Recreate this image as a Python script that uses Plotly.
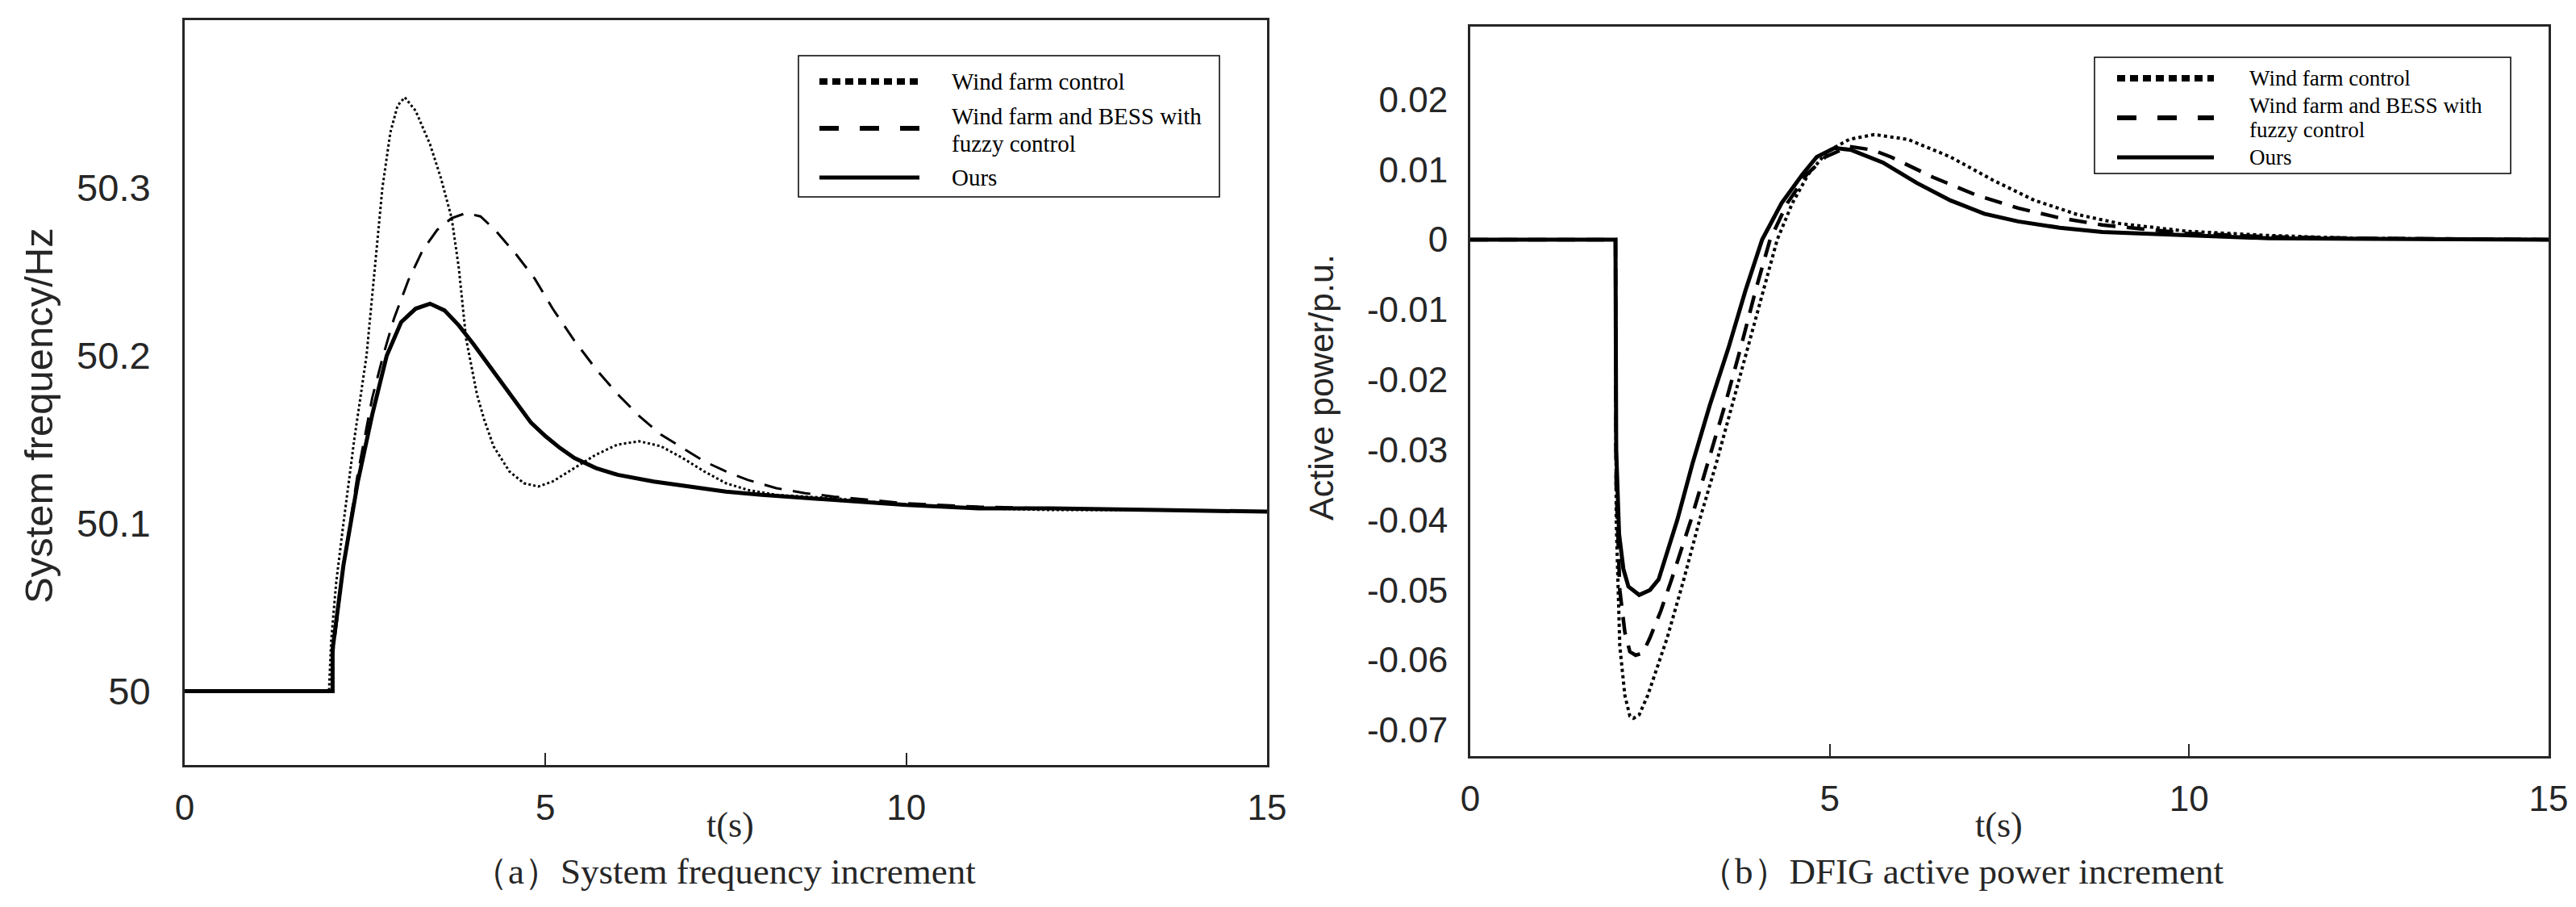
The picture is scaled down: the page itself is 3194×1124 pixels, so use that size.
"""
Frequency / DFIG active power response, two panels side by side.
"""

import plotly.graph_objects as go

W, H = 3194, 1124

# ---- panel (a): system frequency (Hz) ----
t_wf_a = [0, 2.0, 2.03, 2.1, 2.2, 2.35, 2.52, 2.63, 2.74, 2.85, 2.95, 3.05, 3.2, 3.4,
          3.55, 3.7, 3.8, 3.9, 4.05, 4.15, 4.28, 4.5, 4.7, 4.9, 5.1, 5.4, 5.7, 6.0,
          6.3, 6.6, 6.9, 7.2, 7.5, 7.8, 8.2, 8.6, 9.0, 9.5, 10, 11, 12, 13.5, 15]
f_wf = [50, 50, 50.03, 50.065, 50.1, 50.15, 50.2, 50.25, 50.3, 50.333, 50.349, 50.354,
        50.346, 50.326, 50.306, 50.282, 50.252, 50.21, 50.177, 50.162, 50.146, 50.131,
        50.124, 50.122, 50.125, 50.133, 50.141, 50.147, 50.149, 50.146, 50.139, 50.131,
        50.124, 50.12, 50.117, 50.116, 50.115, 50.113, 50.111, 50.109, 50.108, 50.108,
        50.107]

t_fz_a = [0, 2.05, 2.05, 2.2, 2.4, 2.6, 2.75, 2.9, 3.1, 3.3, 3.5, 3.7, 3.9, 4.1, 4.3,
          4.6, 4.85, 5.1, 5.4, 5.7, 6.0, 6.3, 6.6, 6.9, 7.2, 7.5, 7.8, 8.2, 8.6, 9.0,
          9.5, 10, 11, 12, 13.5, 15]
f_fz = [50, 50, 50.02, 50.075, 50.13, 50.175, 50.2, 50.222, 50.245, 50.263, 50.275,
        50.282, 50.285, 50.283, 50.275, 50.26, 50.246, 50.228, 50.209, 50.192, 50.177,
        50.164, 50.153, 50.145, 50.137, 50.131, 50.126, 50.121, 50.118, 50.116, 50.114,
        50.112, 50.11, 50.109, 50.108, 50.107]

t_ours_a = [0, 2.05, 2.05, 2.2, 2.4, 2.6, 2.8, 3.0, 3.2, 3.4, 3.6, 3.8, 4.0, 4.2, 4.4,
            4.6, 4.8, 5.0, 5.2, 5.4, 5.7, 6.0, 6.5, 7.0, 7.5, 8.0, 9.0, 10, 11, 12,
            13.5, 15]
f_ours = [50, 50, 50.025, 50.075, 50.125, 50.165, 50.2, 50.22, 50.228, 50.231, 50.227,
          50.218, 50.207, 50.195, 50.183, 50.171, 50.16, 50.152, 50.145, 50.139, 50.133,
          50.129, 50.125, 50.122, 50.119, 50.117, 50.114, 50.111, 50.109, 50.109,
          50.108, 50.107]

# ---- panel (b): DFIG active power (p.u.) ----
t_wf_b = [0, 2.02, 2.03, 2.08, 2.15, 2.22, 2.27, 2.35, 2.47, 2.74, 2.97, 3.19, 3.42,
          3.64, 3.86, 4.07, 4.27, 4.48, 4.70, 4.97, 5.27, 5.62, 6.09, 6.68, 7.27, 7.85,
          8.44, 9.03, 9.97, 11.1, 12.3, 15]
p_wf = [0, 0, -0.04, -0.058, -0.065, -0.068, -0.0683, -0.0678, -0.065, -0.0568,
        -0.0485, -0.040, -0.032, -0.0237, -0.0155, -0.0072, 0, 0.0052, 0.0093, 0.0126,
        0.0143, 0.015, 0.0143, 0.0118, 0.0085, 0.0056, 0.0036, 0.0023, 0.0012, 0.0006,
        0.0002, 0]

t_fz_b = [0, 2.02, 2.03, 2.08, 2.15, 2.22, 2.3, 2.4, 2.5, 2.65, 2.8, 3.07, 3.30, 3.54,
          3.76, 3.97, 4.17, 4.41, 4.68, 4.94, 5.27, 5.6, 5.85, 6.44, 7.03, 7.62, 8.2,
          8.79, 9.97, 11.1, 12.3, 15]
p_fz = [0, 0, -0.035, -0.05, -0.056, -0.0588, -0.0593, -0.059, -0.0568, -0.053,
        -0.0485, -0.040, -0.032, -0.0237, -0.0155, -0.0072, 0, 0.0052, 0.0093, 0.0118,
        0.0133, 0.0128, 0.0118, 0.0089, 0.0064, 0.0045, 0.0031, 0.0021, 0.0009, 0.0004,
        0.0002, 0]

t_ours_b = [0, 2.02, 2.03, 2.07, 2.13, 2.2, 2.35, 2.5, 2.62, 2.88, 3.09, 3.33, 3.59,
            3.83, 4.06, 4.33, 4.62, 4.82, 5.07, 5.3, 5.74, 6.21, 6.68, 7.15, 7.62, 8.2,
            8.79, 9.97, 11.1, 12.5, 15]
p_ours = [0, 0, -0.03, -0.042, -0.047, -0.0495, -0.0507, -0.050, -0.0485, -0.040,
          -0.032, -0.0237, -0.0155, -0.0072, 0, 0.0052, 0.0093, 0.0118, 0.0131, 0.0128,
          0.011, 0.0081, 0.0056, 0.0037, 0.0026, 0.0017, 0.0011, 0.0006, 0.0002,
          0.0001, 0]

x_ticks = [0, 5, 10, 15]
f_ticks = [50, 50.1, 50.2, 50.3]
f_minor = [50, 50.05, 50.1, 50.15, 50.2, 50.25, 50.3, 50.35]
p_ticks = [0.02, 0.01, 0, -0.01, -0.02, -0.03, -0.04, -0.05, -0.06, -0.07]
p_labels = ["0.02", "0.01", "0", "-0.01", "-0.02", "-0.03", "-0.04", "-0.05",
            "-0.06", "-0.07"]

legend_names = ["Wind farm control", "Wind farm and BESS with", "fuzzy control", "Ours"]

AX = "#262626"
SANS = "Liberation Sans, Arial, sans-serif"
SERIF = "Liberation Serif, Times New Roman, serif"
DASH = "22px,14px"


def px(x):
    return x / W


def py(y):
    return 1 - y / H


fig = go.Figure()

# panel (a)
fig.add_trace(go.Scatter(x=t_wf_a, y=f_wf, mode="lines", xaxis="x", yaxis="y",
                         line=dict(color="black", width=3, dash="dot")))
fig.add_trace(go.Scatter(x=t_fz_a, y=f_fz, mode="lines", xaxis="x", yaxis="y",
                         line=dict(color="black", width=3, dash=DASH)))
fig.add_trace(go.Scatter(x=t_ours_a, y=f_ours, mode="lines", xaxis="x", yaxis="y",
                         line=dict(color="black", width=5)))

# panel (b)
fig.add_trace(go.Scatter(x=t_wf_b, y=p_wf, mode="lines", xaxis="x2", yaxis="y2",
                         line=dict(color="black", width=4, dash="dot")))
fig.add_trace(go.Scatter(x=t_fz_b, y=p_fz, mode="lines", xaxis="x2", yaxis="y2",
                         line=dict(color="black", width=4.5, dash=DASH)))
fig.add_trace(go.Scatter(x=t_ours_b, y=p_ours, mode="lines", xaxis="x2", yaxis="y2",
                         line=dict(color="black", width=5)))

xcommon = dict(range=[0, 15], tickvals=x_ticks, ticks="inside", ticklen=15,
               tickwidth=2, tickcolor=AX, showline=True, linewidth=3, linecolor=AX,
               mirror=True, showgrid=False, zeroline=False, automargin=False,
               tickfont=dict(family=SANS, size=44, color=AX), ticklabelstandoff=12)
ycommon = dict(ticks="", showline=True, linewidth=3, linecolor=AX, mirror=True,
               showgrid=False, zeroline=False, automargin=False)
yright = dict(side="right", ticks="inside", ticklen=12, tickwidth=2, tickcolor=AX,
              showticklabels=False, showline=False, showgrid=False, zeroline=False,
              automargin=False)

f_range = [49.956, 50.4]
p_range = [-0.0737, 0.0304]

fig.update_layout(
    width=W, height=H,
    margin=dict(l=0, r=0, t=0, b=0),
    paper_bgcolor="white", plot_bgcolor="white",
    showlegend=False,
    xaxis=dict(domain=[px(229), px(1571)], anchor="y", **xcommon),
    yaxis=dict(domain=[py(948), py(25)], anchor="x", range=f_range,
               tickvals=f_ticks, ticktext=["50", "50.1", "50.2", "50.3"],
               tickfont=dict(family=SANS, size=47, color=AX), ticklabelstandoff=30,
               **ycommon),
    yaxis3=dict(overlaying="y", anchor="x", range=f_range, tickvals=f_minor, **yright),
    xaxis2=dict(domain=[px(1823), px(3160)], anchor="y2", **xcommon),
    yaxis2=dict(domain=[py(937), py(33)], anchor="x2", range=p_range,
                tickvals=p_ticks, ticktext=p_labels,
                tickfont=dict(family=SANS, size=44, color=AX), ticklabelstandoff=16,
                **ycommon),
    yaxis4=dict(overlaying="y2", anchor="x2", range=p_range, tickvals=p_ticks,
                **yright),
)

# axis titles and captions
annotations = [
    dict(text="System frequency/Hz", x=px(48), y=py(515), textangle=-90,
         font=dict(family=SANS, size=49, color=AX)),
    dict(text="Active power/p.u.", x=px(1638), y=py(480), textangle=-90,
         font=dict(family=SANS, size=43, color=AX)),
    dict(text="t(s)", x=px(905), y=py(1022), font=dict(family=SERIF, size=44, color=AX)),
    dict(text="t(s)", x=px(2478), y=py(1022), font=dict(family=SERIF, size=44, color=AX)),
    dict(text="（a）System frequency increment", x=px(897), y=py(1080),
         font=dict(family=SERIF, size=45, color=AX)),
    dict(text="（b）DFIG active power increment", x=px(2432), y=py(1080),
         font=dict(family=SERIF, size=45, color=AX)),
]
for a in annotations:
    a.update(xref="paper", yref="paper", showarrow=False,
             xanchor="center", yanchor="middle")

shapes = []

# hand-drawn legend boxes: (box, sample x-range, text x, row y's)
legends = [
    dict(box=(990, 69, 1512, 244), sx=(1016, 1140), tx=1178, size=29,
         rows=(101, 159, 220), text_y=(101, 144, 178, 220)),
    dict(box=(2597, 71, 3113, 215), sx=(2625, 2745), tx=2787, size=27,
         rows=(97, 146, 195), text_y=(97, 131, 161, 195)),
]
sample_styles = [
    dict(width=8, dash="10px,6px"),
    dict(width=6, dash="24px,26px"),
    dict(width=5, dash="solid"),
]
for lg in legends:
    x0, y0, x1, y1 = lg["box"]
    shapes.append(dict(type="rect", xref="paper", yref="paper",
                       x0=px(x0), x1=px(x1), y0=py(y1), y1=py(y0),
                       line=dict(color="black", width=1.5), fillcolor="white",
                       layer="above"))
    for ry, st in zip(lg["rows"], sample_styles):
        shapes.append(dict(type="line", xref="paper", yref="paper",
                           x0=px(lg["sx"][0]), x1=px(lg["sx"][1]), y0=py(ry), y1=py(ry),
                           line=dict(color="black", **st), layer="above"))
    for name, ty in zip(legend_names, lg["text_y"]):
        annotations.append(dict(text=name, x=px(lg["tx"]), y=py(ty), xref="paper",
                                yref="paper", showarrow=False, xanchor="left",
                                yanchor="middle",
                                font=dict(family=SERIF, size=lg["size"], color="black")))

fig.update_layout(annotations=annotations, shapes=shapes)

# page body has a default 8px margin; drop it so the figure sits at 0,0
fig.write_html("out.html", config={"displayModeBar": False},
               post_script="document.body.style.margin = '0';")
